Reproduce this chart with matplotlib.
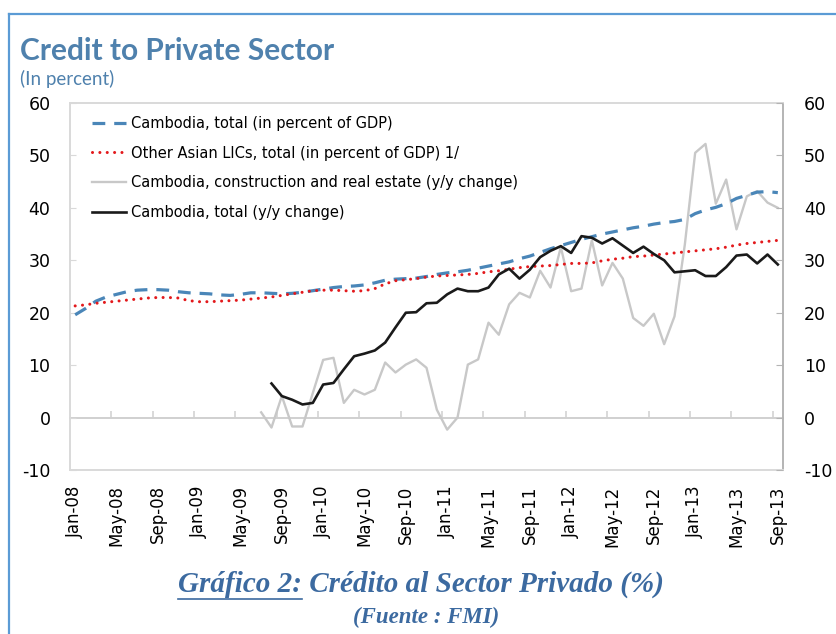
import matplotlib
matplotlib.use('Agg')
import matplotlib.pyplot as plt
import numpy as np
from matplotlib.lines import Line2D

plt.rcParams['axes.unicode_minus'] = False
nan = np.nan

# ---- data (monthly, Jan-08 .. Sep-13) ----
tick_labels = ['Jan-08', 'May-08', 'Sep-08', 'Jan-09', 'May-09', 'Sep-09',
               'Jan-10', 'May-10', 'Sep-10', 'Jan-11', 'May-11', 'Sep-11',
               'Jan-12', 'May-12', 'Sep-12', 'Jan-13', 'May-13', 'Sep-13']

cambodia_gdp = [19.6, 20.8, 22.2, 23.0, 23.5, 24.0, 24.3, 24.4, 24.4, 24.3,
                24.0, 23.8, 23.7, 23.6, 23.4, 23.3, 23.5, 23.8, 23.8, 23.7,
                23.6, 23.7, 23.9, 24.2, 24.5, 24.8, 25.0, 25.1, 25.3, 25.7,
                26.2, 26.4, 26.5, 26.6, 26.9, 27.3, 27.6, 27.8, 28.1, 28.5,
                28.9, 29.3, 29.7, 30.3, 30.8, 31.5, 32.2, 32.8, 33.4, 34.0,
                34.5, 35.0, 35.4, 35.8, 36.2, 36.5, 36.9, 37.2, 37.4, 37.8,
                38.9, 39.6, 40.1, 40.8, 41.8, 42.4, 43.0, 43.1, 42.9]

other_asian_lics = [21.3, 21.5, 21.8, 22.0, 22.2, 22.4, 22.6, 22.8, 22.9, 22.9,
                    22.8, 22.3, 22.1, 22.1, 22.2, 22.3, 22.4, 22.6, 22.8, 23.0,
                    23.3, 23.6, 23.9, 24.2, 24.3, 24.3, 24.2, 24.1, 24.2, 24.6,
                    25.5, 26.1, 26.3, 26.5, 26.8, 27.0, 27.1, 27.2, 27.3, 27.5,
                    27.8, 28.0, 28.3, 28.6, 28.8, 28.9, 29.0, 29.2, 29.4, 29.4,
                    29.5, 29.9, 30.2, 30.4, 30.7, 30.8, 31.0, 31.2, 31.4, 31.6,
                    31.8, 32.0, 32.2, 32.5, 32.9, 33.2, 33.4, 33.6, 33.8]

construction_yy = [nan] * 18 + [
    1.0, -1.9, 4.1, -1.7, -1.7, 4.7, 11.0, 11.4, 2.8, 5.3,
    4.4, 5.3, 10.5, 8.6, 10.1, 11.1, 9.5, 1.5, -2.3, 0.0,
    10.1, 11.1, 18.1, 15.8, 21.6, 23.8, 22.9, 28.0, 24.8, 32.5,
    24.1, 24.6, 33.8, 25.2, 29.5, 26.5, 19.0, 17.5, 19.8, 14.0,
    19.3, 33.0, 50.5, 52.2, 40.8, 45.4, 35.9, 42.2, 43.2, 41.0, 40.0]

cambodia_yy = [nan] * 19 + [
    6.5, 4.1, 3.4, 2.5, 2.8, 6.3, 6.6, 9.2, 11.7, 12.2,
    12.8, 14.3, 17.2, 20.0, 20.1, 21.8, 21.9, 23.5, 24.6, 24.1,
    24.1, 24.8, 27.3, 28.4, 26.5, 28.2, 30.6, 31.8, 32.7, 31.4,
    34.6, 34.3, 33.2, 34.2, 32.8, 31.4, 32.6, 31.2, 30.0, 27.7,
    27.9, 28.1, 27.0, 27.0, 28.7, 30.9, 31.1, 29.4, 31.1, 29.2]

series_labels = ['Cambodia, total (in percent of GDP)',
                 'Other Asian LICs, total (in percent of GDP) 1/',
                 'Cambodia, construction and real estate (y/y change)',
                 'Cambodia, total (y/y change)']

# ---- figure ----
W, H = 837, 634
fig = plt.figure(figsize=(W / 100, H / 100), dpi=100)
fig.patch.set_facecolor('white')

ax = fig.add_axes([70 / W, 1 - 470 / H, 713 / W, 367 / H])
n = len(cambodia_gdp)
x = np.arange(n) + 0.5
ax.set_xlim(0, n)
ax.set_ylim(-10, 60)

h1, = ax.plot(x, cambodia_gdp, color='#4a86b8', lw=2.3, dashes=(4, 2.8), zorder=3)
h2, = ax.plot(x, other_asian_lics, color='#e3191c', lw=2.2,
              linestyle=(0, (0.01, 2.4)), dash_capstyle='round', zorder=3)
h3, = ax.plot(x, construction_yy, color='#c8c8c8', lw=1.7, zorder=2)
h4, = ax.plot(x, cambodia_yy, color='#1a1a1a', lw=1.9, zorder=4)

# x tick labels under the frame
ax.set_xticks(x[::4])
ax.set_xticklabels(tick_labels, rotation=90, fontsize=12)
ax.tick_params(axis='x', length=0, pad=11)

# zero line with category ticks
ymin, ymax = ax.get_ylim()
zpos = (0 - ymin) / (ymax - ymin)
sec = ax.secondary_xaxis(zpos)
sec.set_xticks(np.arange(4, n, 4))
sec.tick_params(direction='in', length=5, color='#d0d0d0', width=1.1, labelbottom=False)
sec.spines['bottom'].set_color('#d0d0d0')
sec.spines['bottom'].set_linewidth(1.4)

# frame
for s in ['top', 'left', 'bottom']:
    ax.spines[s].set_color('#d9d9d9')
    ax.spines[s].set_linewidth(1.4)
ax.spines['right'].set_color('#b4b4b4')
ax.spines['right'].set_linewidth(1.4)

yt = np.arange(-10, 61, 10)
ax.set_yticks(yt)
ax.tick_params(axis='y', direction='in', length=4, color='#d9d9d9',
               labelsize=12.5, pad=14)

ax2 = ax.twinx()
ax2.set_ylim(ymin, ymax)
ax2.set_yticks(yt)
ax2.tick_params(axis='y', direction='in', length=5, color='#b4b4b4',
                labelsize=12.5, pad=15)
for s in ['top', 'left', 'bottom', 'right']:
    ax2.spines[s].set_visible(False)

leg = ax2.legend([h1, h2, h3, h4], series_labels, loc='upper left',
                 bbox_to_anchor=(22 / 713, 1 - 13 / 367), frameon=False,
                 fontsize=10.5, handlelength=2.3, handletextpad=0.35,
                 labelspacing=1.0, borderpad=0, borderaxespad=0)

# titles
fig.text(20 / W, 1 - 60 / H, 'Credit to Private Sector', fontsize=21.5,
         fontweight='bold', color='#4f81ad', family='Lato', va='baseline')
fig.text(20 / W, 1 - 85 / H, '(In percent)', fontsize=13.5,
         color='#4f81ad', family='Lato', va='baseline')

# caption
cap_kw = dict(family='Liberation Serif', style='italic', weight='bold',
              color='#3c6aa0', va='baseline')
cap = fig.text(421 / W, 1 - 592 / H, 'Gráfico 2: Crédito al Sector Privado (%)',
               fontsize=21, ha='center', **cap_kw)
fig.text(426 / W, 1 - 623 / H, '(Fuente : FMI)', fontsize=16.5, ha='center', **cap_kw)

fig.canvas.draw()
r = fig.canvas.get_renderer()
bb = cap.get_window_extent(r)
tmp = fig.text(0, 0, 'Gráfico 2:', fontsize=21, ha='left', **cap_kw)
wpart = tmp.get_window_extent(r).width
tmp.remove()
yul = 1 - 599 / H
fig.add_artist(Line2D([bb.x0 / W, (bb.x0 + wpart) / W], [yul, yul],
                      transform=fig.transFigure, color='#3c6aa0', lw=1.2))

# figure border (blue)
fig.add_artist(Line2D([9 / W, 1], [1 - 14 / H, 1 - 14 / H],
                      transform=fig.transFigure, color='#5b9bd5', lw=1.6))
fig.add_artist(Line2D([9 / W, 9 / W], [0, 1 - 14 / H],
                      transform=fig.transFigure, color='#5b9bd5', lw=1.6))

fig.savefig('out.png', dpi=100)
